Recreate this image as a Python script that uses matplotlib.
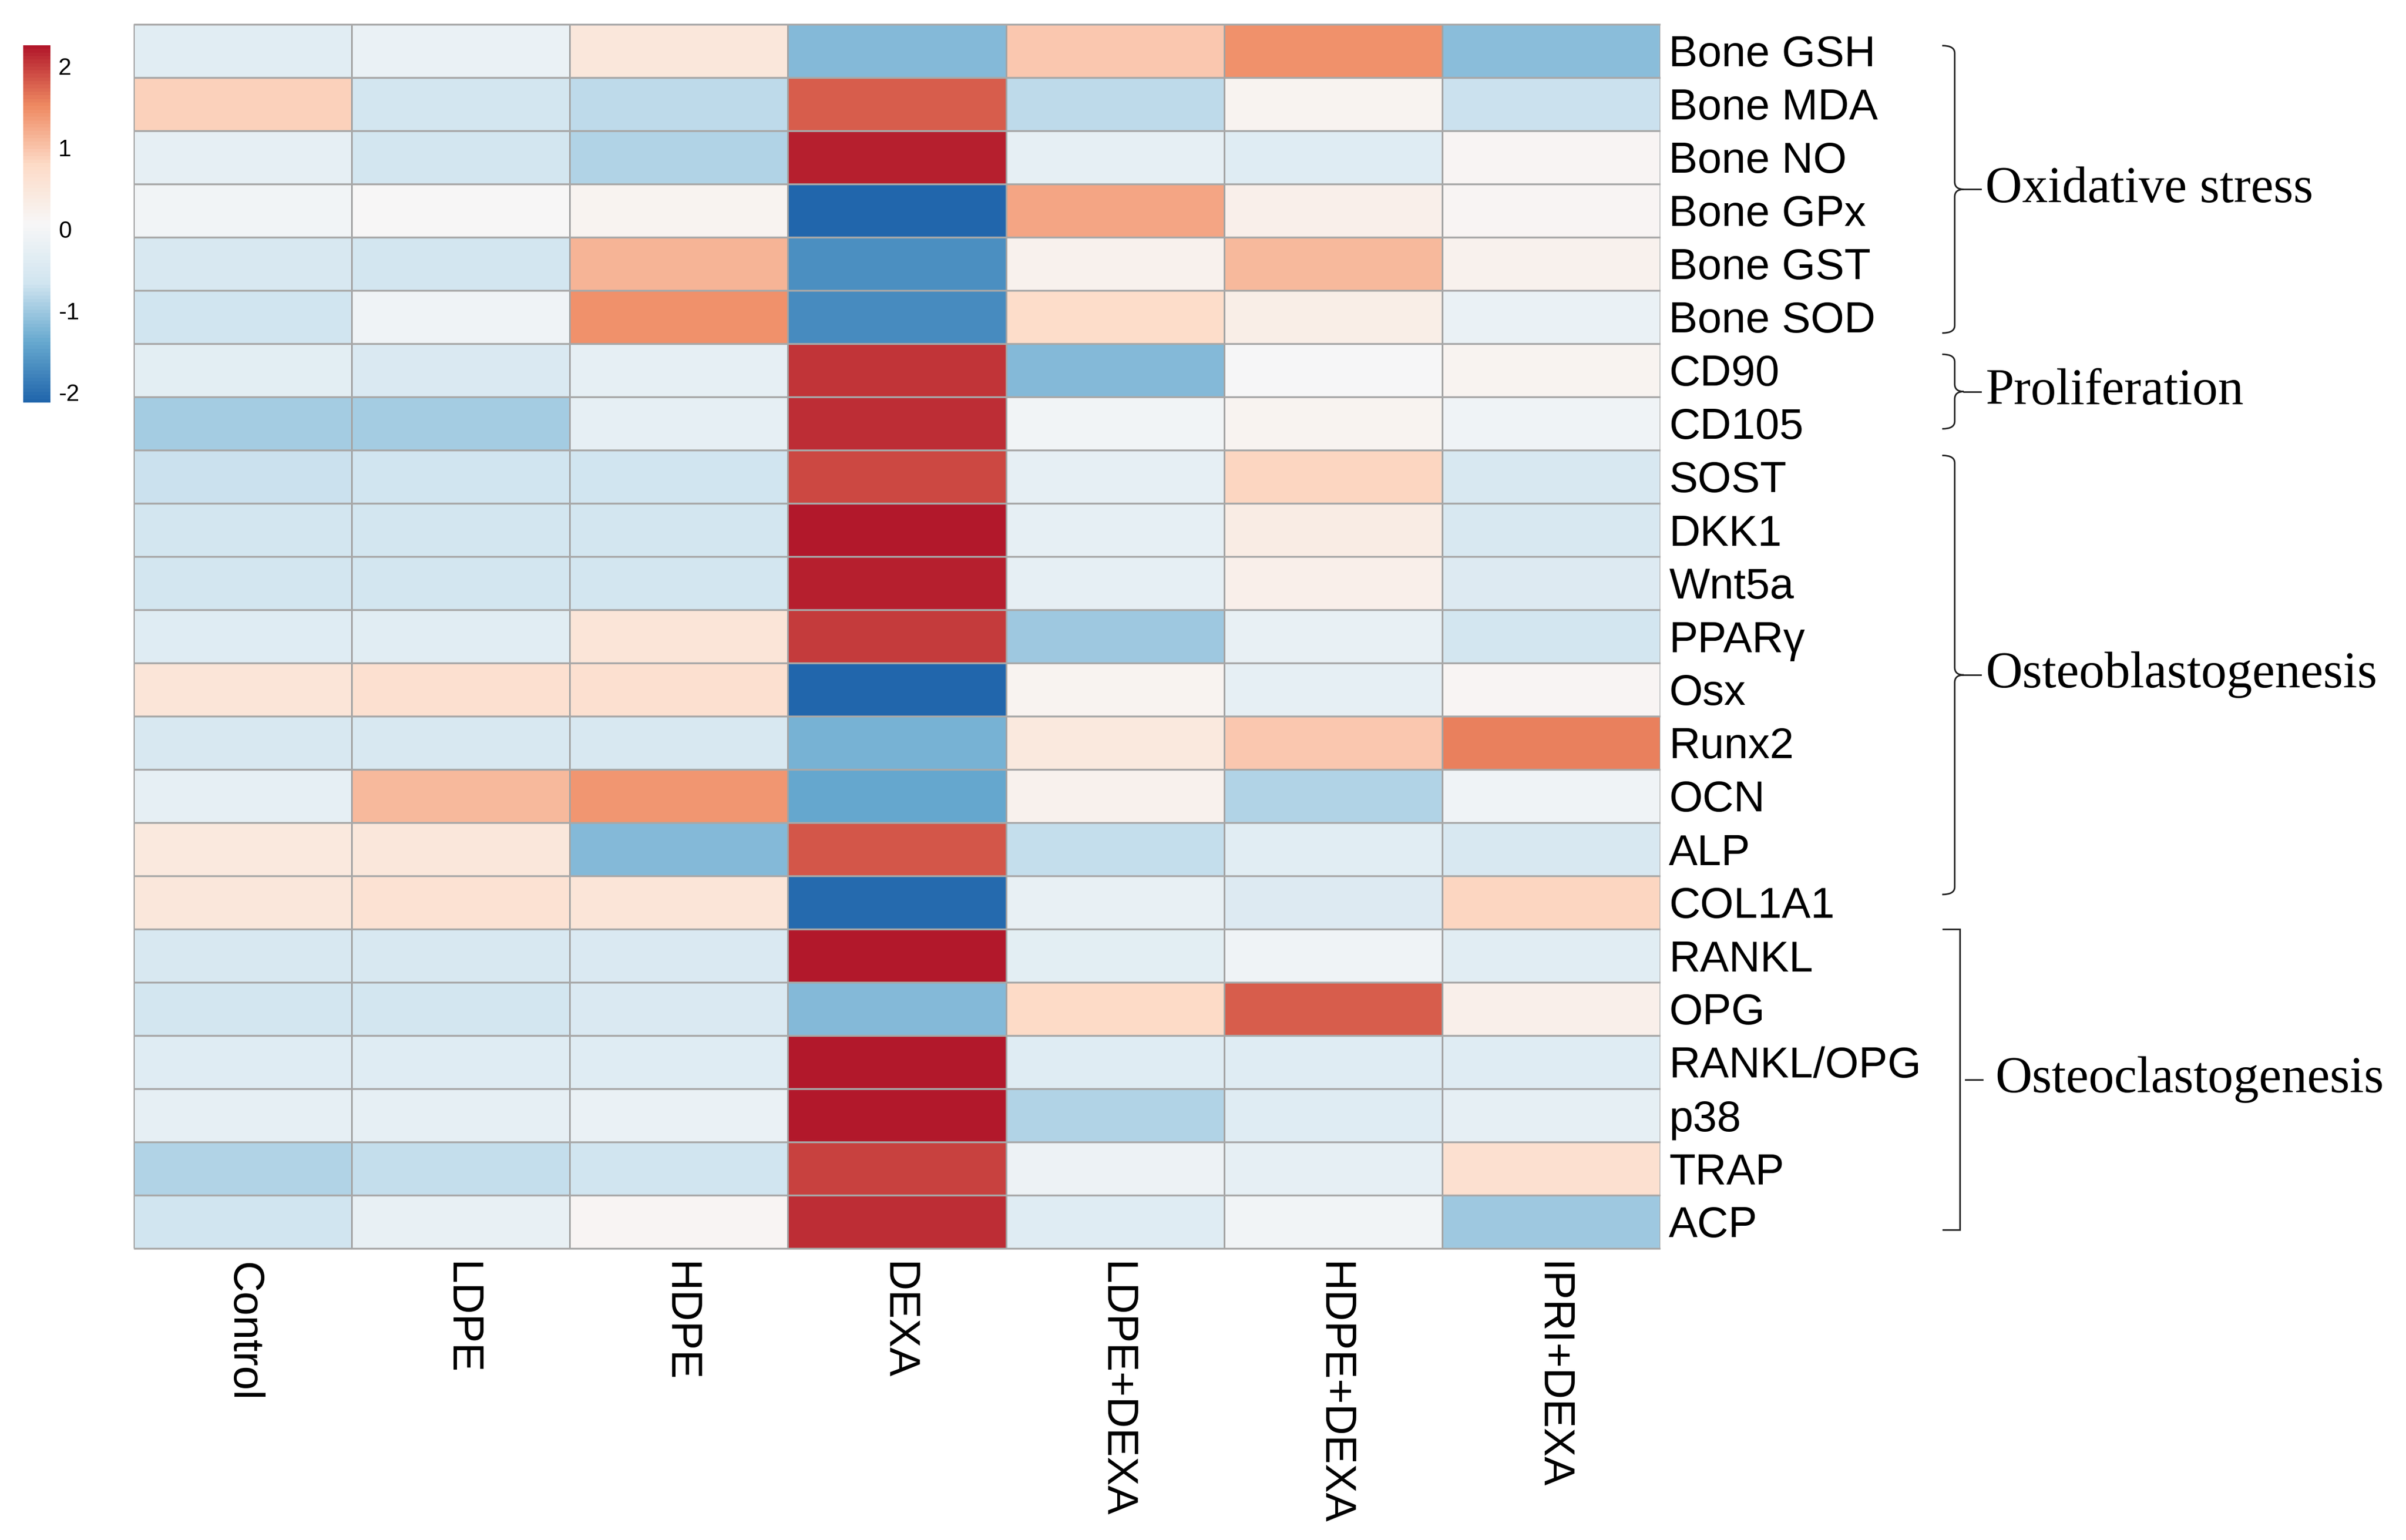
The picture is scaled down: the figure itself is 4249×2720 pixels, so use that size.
import numpy as np
import matplotlib
matplotlib.use("Agg")
import matplotlib.pyplot as plt
import matplotlib.colorbar as mcolorbar
import matplotlib.transforms as mtransforms
from matplotlib.colors import LinearSegmentedColormap, Normalize
from matplotlib.path import Path
from matplotlib.patches import PathPatch

plt.rcParams['font.family'] = ['Liberation Sans', 'DejaVu Sans']

groups = ["Control", "LDPE", "HDPE", "DEXA", "LDPE+DEXA", "HDPE+DEXA", "IPRI+DEXA"]
markers = ["Bone GSH", "Bone MDA", "Bone NO", "Bone GPx", "Bone GST", "Bone SOD",
           "CD90", "CD105", "SOST", "DKK1", "Wnt5a", "PPARγ", "Osx", "Runx2",
           "OCN", "ALP", "COL1A1", "RANKL", "OPG", "RANKL/OPG", "p38", "TRAP", "ACP"]

# z-scores per group (rows in the order of markers)
control = [-0.36, 0.88, -0.27, -0.04, -0.54, -0.65, -0.32, -0.95, -0.70, -0.62, -0.62, -0.42,
           0.52, -0.54, -0.27, 0.44, 0.47, -0.54, -0.62, -0.42, -0.29, -0.86, -0.65]
ldpe = [-0.19, -0.62, -0.62, 0.08, -0.62, -0.11, -0.50, -0.95, -0.65, -0.62, -0.62, -0.34,
        0.67, -0.54, 1.07, 0.49, 0.61, -0.54, -0.62, -0.42, -0.29, -0.76, -0.21]
hdpe = [0.47, -0.81, -0.90, 0.17, 1.14, 1.46, -0.25, -0.27, -0.65, -0.62, -0.62, 0.53,
        0.67, -0.54, 1.39, -1.20, 0.52, -0.50, -0.50, -0.42, -0.19, -0.65, 0.14]
dexa = [-1.20, 1.78, 2.18, -2.10, -1.69, -1.70, 2.05, 2.08, 1.90, 2.21, 2.18, 2.00,
        -2.13, -1.27, -1.42, 1.83, -2.06, 2.25, -1.20, 2.25, 2.24, 1.96, 2.09]
ldpe_dexa = [0.97, -0.81, -0.27, 1.28, 0.23, 0.76, -1.21, -0.06, -0.25, -0.29, -0.29, -1.01,
             0.15, 0.42, 0.23, -0.76, -0.23, -0.31, 0.80, -0.42, -0.90, -0.13, -0.40]
hdpe_dexa = [1.42, 0.17, -0.42, 0.27, 1.11, 0.29, 0.02, 0.15, 0.83, 0.36, 0.27, -0.23,
             -0.25, 0.94, -0.90, -0.36, -0.46, -0.11, 1.78, -0.42, -0.40, -0.29, -0.04]
ipri_dexa = [-1.15, -0.71, 0.14, 0.14, 0.23, -0.17, 0.15, -0.11, -0.54, -0.54, -0.46, -0.60,
             0.14, 1.58, -0.11, -0.54, 0.82, -0.36, 0.26, -0.42, -0.29, 0.67, -1.01]

group_names = ["Oxidative stress", "Proliferation", "Osteoblastogenesis", "Osteoclastogenesis"]
group_top = [0.4, 6.2, 8.1, 17.0]
group_bottom = [5.8, 7.6, 16.35, 22.65]
group_style = ["curly", "curly", "curly", "square"]

cbar_ticks = [-2, -1, 0, 1, 2]
vmin, vmax = -2.13, 2.25

data = np.column_stack([control, ldpe, hdpe, dexa, ldpe_dexa, hdpe_dexa, ipri_dexa])

cmap = LinearSegmentedColormap.from_list(
    "rdbu7", ["#2166AC", "#67A9CF", "#D1E5F0", "#F7F7F7", "#FDDBC7", "#EF8A62", "#B2182B"], N=100)
norm = Normalize(vmin=vmin, vmax=vmax)

W, H = 4249, 2720
fig = plt.figure(figsize=(W / 100, H / 100), dpi=100)

# heatmap
ax = fig.add_axes([236 / W, 1 - 2205 / H, (2932 - 236) / W, (2205 - 43) / H])
ax.pcolormesh(data, cmap=cmap, norm=norm, edgecolors="#a3a3a3", linewidth=0.8)
ax.hlines(np.arange(len(markers) + 1), 0, len(groups), color="#a8a8a8", lw=2.4, clip_on=False)
ax.set_xlim(0, len(groups))
ax.set_ylim(len(markers), 0)
for s in ax.spines.values():
    s.set_visible(False)

ax.yaxis.tick_right()
ax.set_yticks(np.arange(len(markers)) + 0.5)
ax.set_yticklabels(markers, fontsize=55)
ax.set_xticks(np.arange(len(groups)) + 0.5)
ax.set_xticklabels(groups, fontsize=55, rotation=270, ha="center", va="top")
ax.tick_params(axis="y", length=0, pad=11)
ax.tick_params(axis="x", length=0, pad=17)

# colour key
cax = fig.add_axes([41 / W, 1 - 711 / H, 48 / W, (711 - 80) / H])
cb = mcolorbar.ColorbarBase(cax, cmap=cmap, norm=norm)
cb.outline.set_visible(False)
cb.set_ticks(cbar_ticks)
cb.set_ticklabels([str(t).replace("−", "-") for t in cbar_ticks])
cax.tick_params(length=0, pad=10, labelsize=30)

# group brackets
trans = mtransforms.blended_transform_factory(fig.transFigure, ax.transData)
xv = 3452 / W
hook = 22 / W
tip = 16 / W
dash = 30 / W
r = 0.14

for name, y0, y1, style in zip(group_names, group_top, group_bottom, group_style):
    ym = (y0 + y1) / 2
    if style == "curly":
        verts = [(xv - hook, y0), (xv, y0), (xv, y0 + r),
                 (xv, ym - r), (xv, ym), (xv + tip, ym),
                 (xv, ym), (xv, ym + r),
                 (xv, y1 - r), (xv, y1), (xv - hook, y1)]
        codes = [Path.MOVETO, Path.CURVE3, Path.CURVE3,
                 Path.LINETO, Path.CURVE3, Path.CURVE3,
                 Path.CURVE3, Path.CURVE3,
                 Path.LINETO, Path.CURVE3, Path.CURVE3]
        x_dash0 = xv + tip
        x_lab = xv + tip + dash + 8 / W
    else:
        xs = xv + 9 / W
        verts = [(xs - hook - 9 / W, y0), (xs, y0), (xs, y1), (xs - hook - 9 / W, y1)]
        codes = [Path.MOVETO, Path.LINETO, Path.LINETO, Path.LINETO]
        x_dash0 = xs + 10 / W
        x_lab = xs + 10 / W + dash + 22 / W
    p = PathPatch(Path(verts, codes), transform=trans, fill=False, lw=2.0,
                  edgecolor="#222222", clip_on=False)
    fig.add_artist(p)
    fig.add_artist(plt.Line2D([x_dash0, x_dash0 + dash], [ym, ym], transform=trans,
                              color="#222222", lw=2.0, clip_on=False))
    fig.text(x_lab, ym, name, transform=trans, fontsize=65, va="center", ha="left",
             family=["Liberation Serif", "DejaVu Serif"])

fig.savefig("out.png", dpi=100, facecolor="white")
